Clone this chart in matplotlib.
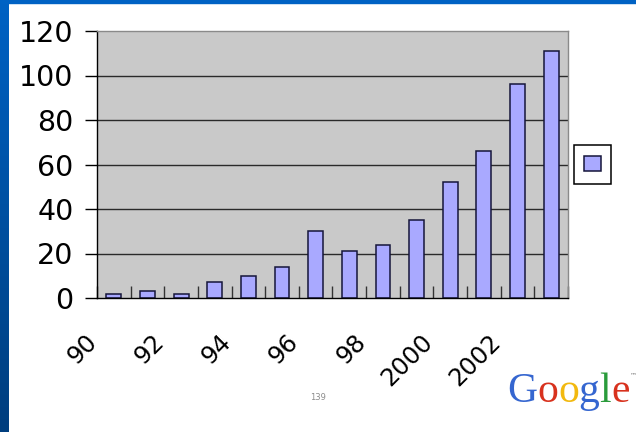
import numpy as np
import matplotlib
matplotlib.use('Agg')
import matplotlib.pyplot as plt
import matplotlib.transforms as mtransforms
from matplotlib.colors import LinearSegmentedColormap
from matplotlib.offsetbox import TextArea, HPacker, AnchoredOffsetbox

# data
years = [1990, 1991, 1992, 1993, 1994, 1995, 1996, 1997, 1998, 1999, 2000, 2001, 2002, 2003]
counts = [2, 3, 2, 7, 10, 14, 30, 21, 24, 35, 52, 66, 96, 111]
tick_labels = ['90', '', '92', '', '94', '', '96', '', '98', '', '2000', '', '2002', '', '']
y_ticks = [0, 20, 40, 60, 80, 100, 120]

logo_letters = ['G', 'o', 'o', 'g', 'l', 'e']
logo_colors = ['#3566D0', '#D8321E', '#F2B90F', '#3566D0', '#2A9B3B', '#D8321E']

fig = plt.figure(figsize=(6.36, 4.32), dpi=100)
fig.patch.set_facecolor('white')

# blue slide border: gradient band on the left, thin band on top
band = fig.add_axes([0, 0, 9/636, 1])
cmap = LinearSegmentedColormap.from_list('slide', ['#003E7E', '#0062C4'])
band.imshow(np.linspace(0, 1, 256).reshape(-1, 1), aspect='auto', cmap=cmap, origin='lower')
band.set_axis_off()
fig.patches.append(plt.Rectangle((0, 1 - 3/432), 1, 3/432, transform=fig.transFigure,
                                 color='#0062C4', zorder=0))

ax = fig.add_axes([97/636, 134/432, 471/636, 267/432])
ax.set_facecolor('#C9C9C9')

x = np.arange(len(years))
for v in y_ticks[1:-1]:
    ax.axhline(v, color='#2a2a2a', lw=1.0, zorder=1)
bars = ax.bar(x, counts, width=0.44, color='#A9A9FF', edgecolor='#15153a', linewidth=1.1, zorder=2)

ax.set_xlim(-0.5, len(years) - 0.5)
ax.set_ylim(0, 120)
ax.set_yticks(y_ticks)
ax.set_yticklabels([str(v) for v in y_ticks])
ax.tick_params(axis='y', direction='out', length=9, width=1, pad=8, labelsize=20.5, colors='black')

ax.set_xticks(np.arange(len(years) + 1) - 0.5)
ax.set_xticklabels(tick_labels, rotation=45, ha='right', va='center', rotation_mode='anchor')
ax.tick_params(axis='x', direction='in', length=9, width=1, pad=29, labelsize=17.5,
               colors='#333333', labelcolor='black')
offset = mtransforms.ScaledTranslation(-4/100, 0, fig.dpi_scale_trans)
for lab in ax.get_xticklabels():
    lab.set_transform(lab.get_transform() + offset)

for s in ['left', 'bottom']:
    ax.spines[s].set_color('black')
    ax.spines[s].set_linewidth(1)
for s in ['top', 'right']:
    ax.spines[s].set_color('#8a8a8a')
    ax.spines[s].set_linewidth(1)

leg = ax.legend(handles=[bars], labels=[''], loc='center left', bbox_to_anchor=(1.012, 0.5),
                fontsize=12.2, handlelength=1.0, handleheight=1.0, handletextpad=0,
                borderpad=0.6, fancybox=False, framealpha=1, borderaxespad=0)
leg.get_frame().set_edgecolor('black')
leg.get_frame().set_linewidth(1.1)

# Google logo, bottom right
parts = [TextArea(c, textprops=dict(color=col, fontsize=30, family='Liberation Serif'))
         for c, col in zip(logo_letters, logo_colors)]
parts.append(TextArea('\u2122', textprops=dict(color='#777777', fontsize=5)))
logo = AnchoredOffsetbox(loc='lower left', child=HPacker(children=parts, pad=0, sep=0, align='top'),
                         frameon=False, pad=0, borderpad=0,
                         bbox_to_anchor=(507/636, 21/432), bbox_transform=fig.transFigure)
fig.add_artist(logo)

fig.text(318/636, 1 - 400/432, '139', fontsize=6, color='#8c8c8c', ha='center')

fig.savefig('out.png', dpi=100)
